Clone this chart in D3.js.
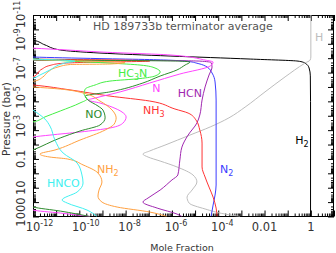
<!DOCTYPE html>
<html>
<head>
<meta charset="utf-8">
<script src="https://cdn.jsdelivr.net/npm/d3@7"></script>
<style>
body { margin: 0; background: #fff; }
text { font-family: "DejaVu Sans", sans-serif; }
</style>
</head>
<body>
<div id="chart"></div>
<script>
// each profile: [pressure (bar), mole fraction], top of atmosphere first
const h2 = [[2e-10, 1e-14], [5.5e-10, 1e-12], [1.2e-9, 3.3e-12], [2.7e-9, 1.5e-11], [4.4e-9, 7.8e-10],
    [7.1e-9, 8.3e-7], [1.15e-8, 2.4e-3], [1.6e-8, 0.28], [2.2e-8, 0.56], [4.8e-8, 0.84],
    [1.7e-7, 0.95], [1e-5, 0.97], [1000, 0.97]]
const h = [[1e-12, 1.0], [8.3e-9, 1.0], [1.35e-8, 0.93], [2.2e-8, 0.56], [2e-7, 0.077], [2.2e-6, 0.0105],
    [2.5e-5, 1.45e-3], [1.4e-4, 2.9e-4], [6e-4, 4.5e-5], [2.2e-3, 6e-6], [0.011, 5e-7], [0.028, 1.1e-7],
    [0.046, 5.6e-8], [0.074, 9.3e-8], [0.14, 3.1e-7], [0.36, 1.65e-6], [1.3, 8.1e-6], [4, 1.2e-5],
    [14.5, 7.4e-6], [45, 4.5e-6], [116, 5.5e-6], [300, 2.7e-5], [675, 1.95e-4], [1000, 8.8e-4]]
const n2 = [[5e-9, 1e-14], [8.3e-9, 1e-12], [1.07e-8, 7.8e-10], [1.25e-8, 1.1e-7], [1.6e-8, 3.7e-6],
    [2.35e-8, 1.35e-5], [4.1e-8, 3.3e-5], [1.07e-7, 5.4e-5], [4.5e-7, 7.3e-5], [8.1e-6, 8.1e-5],
    [6.5, 8.1e-5], [32, 7.3e-5], [160, 6e-5], [1000, 4.9e-5]]
const hcn = [[1e-8, 1e-14], [1.35e-8, 1e-12], [1.45e-8, 1.1e-7], [1.6e-8, 1.6e-5], [2e-8, 4.9e-5],
    [4.1e-8, 5.4e-5], [1.48e-7, 4e-5], [1e-6, 2.7e-5], [8.1e-6, 2e-5], [8.9e-5, 1.6e-5], [3.2e-4, 1.2e-5],
    [2.2e-3, 5e-6], [0.015, 2.7e-6], [0.12, 2.2e-6], [1.3, 1.8e-6], [2.9, 1e-6], [14.5, 3.1e-7],
    [52, 9.3e-8], [99, 5.6e-8], [260, 2.3e-7], [675, 1.65e-6], [1000, 2.7e-6]]
const nh3 = [[9e-9, 1e-14], [1.15e-8, 1e-12], [1.35e-8, 5.8e-9], [1.6e-8, 1.1e-7], [1.7e-8, 4.2e-8],
    [1.85e-8, 7.8e-10], [2.35e-8, 1.5e-11], [3.2e-8, 5.4e-12], [5.7e-8, 2.45e-12], [2e-7, 1e-12],
    [4e-7, 1e-14], [7.3e-7, 1e-12], [1.6e-6, 4e-11], [4.3e-6, 2.1e-9], [9.5e-6, 1.1e-7], [3.4e-5, 1.35e-6],
    [6.5e-5, 5e-6], [2e-4, 1.1e-5], [9.8e-4, 1.6e-5], [7.9e-3, 2e-5], [0.36, 2e-5], [1.8, 2.7e-5],
    [9, 4e-5], [45, 6e-5], [260, 8.1e-5], [1000, 8.9e-5]]
const n = [[1.2e-9, 1e-14], [2e-9, 1e-12], [2.7e-9, 3e-11], [3.7e-9, 7.8e-10], [6e-9, 8.3e-7],
    [1.35e-8, 2.7e-5], [1.85e-8, 6e-5], [3.5e-8, 4.5e-5], [1.26e-7, 2.2e-6], [5.3e-7, 1.1e-7],
    [2.2e-6, 5.8e-9], [5.9e-6, 4.8e-10], [8.1e-6, 2.4e-10], [1.3e-5, 7.8e-10], [2.5e-5, 2.6e-9],
    [5.5e-5, 7e-9], [1.2e-4, 1.05e-8], [3.2e-4, 7.7e-9], [7.1e-4, 2.1e-9], [1.35e-3, 1.07e-10],
    [2.2e-3, 5.4e-12], [3e-3, 1e-12], [0.1, 1e-15], [355, 1e-12], [575, 1.5e-11], [1000, 2.9e-10]]
const no = [[1e-8, 1e-14], [1.35e-8, 1e-12], [1.45e-8, 5.8e-9], [1.6e-8, 2.2e-6], [1.85e-8, 6e-6],
    [3e-8, 3.7e-6], [6.6e-8, 1.65e-6], [1.74e-7, 3.1e-7], [5.3e-7, 5.6e-8], [2.2e-6, 2.1e-9],
    [4.3e-6, 1.8e-10], [8.1e-6, 2.4e-10], [2.1e-5, 6.4e-10], [4e-5, 1.05e-9], [1.4e-4, 1.3e-9],
    [4.4e-4, 7.8e-10], [1.15e-3, 1.07e-10], [3.5e-3, 1.5e-11], [0.024, 1e-12], [1, 1e-15],
    [220, 1e-12], [420, 1.5e-11], [1000, 2.9e-10]]
const hc3n = [[9e-9, 1e-14], [1.15e-8, 1e-12], [1.6e-8, 4e-11], [2.2e-8, 2.1e-9], [3e-8, 4.2e-8],
    [4.8e-8, 1.85e-7], [9.1e-8, 3.1e-7], [1.74e-7, 1.85e-7], [2.6e-7, 4.2e-8], [3.9e-7, 2.1e-9],
    [7.3e-7, 4.8e-10], [1.4e-6, 1.8e-10], [3.1e-6, 1.6e-10], [6.9e-6, 2.15e-10], [1.3e-5, 1.07e-10],
    [4.7e-5, 1.5e-11], [1.2e-4, 3.3e-12], [2.7e-4, 1e-12], [1e-3, 1e-15]]
const nh2 = [[9e-9, 1e-14], [1.25e-8, 1e-12], [1.6e-8, 2.9e-10], [2e-8, 9.4e-9], [2.55e-8, 2.1e-9],
    [2.75e-8, 4e-11], [4.1e-8, 1.2e-11], [9.1e-8, 4.4e-12], [2e-7, 2.7e-12], [3.9e-7, 1.2e-12],
    [6e-7, 1e-14], [1e-6, 1e-12], [1.4e-6, 1.5e-11], [2.6e-6, 1.45e-10], [9.5e-6, 7.8e-10],
    [4e-5, 2.6e-9], [1.4e-4, 3.9e-9], [3.8e-4, 3.2e-9], [9.8e-4, 1.3e-9], [4.9e-3, 1.07e-10],
    [0.024, 8.9e-12], [0.046, 2e-12], [0.074, 5.4e-12], [0.1, 3e-11], [0.26, 1.45e-10], [0.95, 6.4e-10],
    [4, 9.5e-10], [14.5, 7.1e-10], [38, 6.4e-10], [99, 9.5e-10], [220, 4.3e-9], [490, 1.1e-7], [1000, 6e-7]]
const hnco = [[9e-9, 1e-14], [1.15e-8, 1e-12], [1.6e-8, 6.5e-11], [2e-8, 3e-11], [2.75e-8, 1.5e-11],
    [6.6e-8, 5.4e-12], [1.48e-7, 2e-12], [2.4e-7, 1e-12], [5e-7, 1e-14], [4e-5, 1e-12], [1.7e-4, 3.3e-12],
    [5.2e-4, 5.4e-12], [4.9e-3, 8.9e-12], [0.039, 2e-11], [0.19, 8e-11], [1.3, 1.3e-10], [4.7, 1.45e-10],
    [20, 8e-11], [72, 1.8e-11], [116, 3e-11], [355, 2.15e-10], [1000, 5.8e-10]]

const names = ["H2", "H", "N2", "HCN", "NH3", "N", "NO", "HC3N", "NH2", "HNCO"]
const profiles = [h2, h, n2, hcn, nh3, n, no, hc3n, nh2, hnco]
const colors = ["#000000", "#bdbdbd", "#3c3cff", "#a028b0", "#ff3333", "#ff44ff", "#2e8b2e", "#44ee44", "#ffa040", "#40f0f0"]
// where each name is written: [mole fraction, pressure]
const labelAt = [[0.21, 9e-3], [1.5, 6.4e-10], [1.2e-4, 0.95], [1.8e-6, 5e-6], [5.6e-8, 7.6e-5],
    [1.4e-7, 2.2e-6], [1.8e-10, 1.45e-4], [4.7e-9, 2e-7], [5.8e-10, 0.95], [4e-12, 9]]

const xLabels = [1e-12, 1e-10, 1e-8, 1e-6, 1e-4, 0.01, 1]
const yLabels = [1000, 10, 0.1, 1e-3, 1e-5, 1e-7, 1e-9, 1e-11]

const x = d3.scaleLog().domain([1e-12, 10]).range([33, 334])
const y = d3.scaleLog().domain([1e-11, 1000]).range([15, 216.5])

const svg = d3.select("#chart").append("svg")
    .attr("width", 336)
    .attr("height", 253)

svg.append("defs").append("clipPath")
    .attr("id", "plot")
    .append("rect")
    .attr("x", 33)
    .attr("y", 15)
    .attr("width", 301)
    .attr("height", 201.5)

// decade and minor ticks
const decX = d3.range(-12, 2).map(e => Math.pow(10, e))
const decY = d3.range(-11, 4).map(e => Math.pow(10, e))
const minor = dec => dec.slice(0, -1).flatMap(d => d3.range(2, 10).map(k => k * d))

function ticks(axis, tr, vals, len) {
    svg.append("g")
        .attr("transform", tr)
        .call(axis.tickValues(vals).tickSize(-len).tickFormat(""))
        .call(g => g.select(".domain").remove())
        .selectAll("line").attr("stroke", "#000")
}
ticks(d3.axisBottom(x), "translate(0,216.5)", decX, 6)
ticks(d3.axisBottom(x), "translate(0,216.5)", minor(decX), 3)
ticks(d3.axisTop(x), "translate(0,15)", decX, 6)
ticks(d3.axisTop(x), "translate(0,15)", minor(decX), 3)
ticks(d3.axisLeft(y), "translate(33,0)", decY, 6)
ticks(d3.axisLeft(y), "translate(33,0)", minor(decY), 3)
ticks(d3.axisRight(y), "translate(334,0)", decY, 6)
ticks(d3.axisRight(y), "translate(334,0)", minor(decY), 3)

svg.append("rect")
    .attr("x", 33.5)
    .attr("y", 15.5)
    .attr("width", 300)
    .attr("height", 201)
    .attr("fill", "none")
    .attr("stroke", "#000")

// tick label: powers written as 10 with a raised exponent, the "10" centred on the tick
function tickLabel(t, v) {
    const e = Math.round(Math.log10(v))
    t.attr("font-size", 11.5).attr("fill", "#333")
    if (v >= 0.01) {
        t.attr("text-anchor", "middle").text(d3.format("~g")(v))
    } else {
        t.attr("x", -7.3).attr("text-anchor", "start")
        t.append("tspan").text("10")
        t.append("tspan").attr("dy", -5).attr("font-size", 8).text("-" + (-e))
    }
}

xLabels.forEach(v => {
    const g = svg.append("g").attr("transform", `translate(${x(v)},231)`)
    tickLabel(g.append("text"), v)
})
// end labels are pulled inside so they stay on the page
yLabels.forEach(v => {
    const py = Math.min(Math.max(y(v), 21), 212)
    const g = svg.append("g").attr("transform", `translate(25,${py}) rotate(-90)`)
    tickLabel(g.append("text"), v)
})

svg.append("text")
    .attr("x", 182)
    .attr("y", 251)
    .attr("text-anchor", "middle")
    .attr("font-size", 9.5)
    .attr("fill", "#333")
    .text("Mole Fraction")

svg.append("text")
    .attr("transform", "translate(10,119) rotate(-90)")
    .attr("text-anchor", "middle")
    .attr("font-size", 10.5)
    .attr("fill", "#333")
    .text("Pressure (bar)")

svg.append("text")
    .attr("x", 93)
    .attr("y", 30)
    .attr("font-size", 11)
    .attr("fill", "#555")
    .text("HD 189733b terminator average")

const line = d3.line()
    .x(d => x(d[1]))
    .y(d => y(d[0]))
    .curve(d3.curveMonotoneY)

const curves = svg.append("g").attr("clip-path", "url(#plot)")
profiles.forEach((p, i) => {
    curves.append("path")
        .attr("d", line(p))
        .attr("fill", "none")
        .attr("stroke", colors[i])
        .attr("stroke-width", 1)
})

// species names, digits as subscripts
names.forEach((s, i) => {
    const t = svg.append("text")
        .attr("x", x(labelAt[i][0]))
        .attr("y", y(labelAt[i][1]))
        .attr("font-size", 11)
        .attr("fill", colors[i])
    let sub = false
    s.match(/\d+|\D+/g).forEach(part => {
        const isNum = /\d/.test(part)
        t.append("tspan")
            .attr("dy", isNum ? 3 : (sub ? -3 : 0))
            .attr("font-size", isNum ? 8 : 11)
            .text(part)
        sub = isNum
    })
})
</script>
</body>
</html>
